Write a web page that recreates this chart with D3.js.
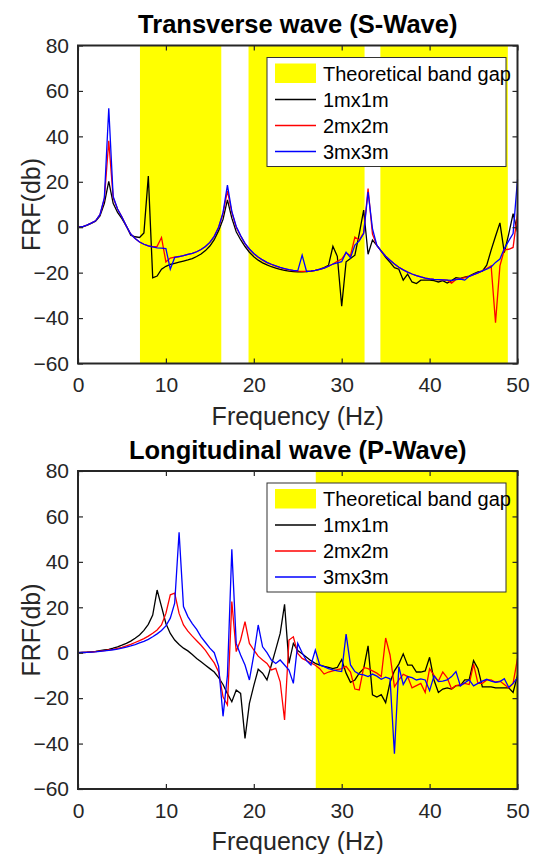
<!DOCTYPE html>
<html><head><meta charset="utf-8">
<script src="https://cdn.jsdelivr.net/npm/d3@7"></script>
<style>
html,body{margin:0;padding:0;background:#fff;}
svg{display:block;font-family:"Liberation Sans",Arial,Helvetica,sans-serif;}
</style></head>
<body>
<svg id="chart" width="537" height="854"></svg>
<script>
const freq = [0,0.5,1,1.5,2,2.5,3,3.5,4,4.5,5,5.5,6,6.5,7,7.5,8,8.5,9,9.5,10,10.5,11,11.5,12,12.5,13,13.5,14,14.5,15,15.5,16,16.5,17,17.5,18,18.5,19,19.5,20,20.5,21,21.5,22,22.5,23,23.5,24,24.5,25,25.5,26,26.5,27,27.5,28,28.5,29,29.5,30,30.5,31,31.5,32,32.5,33,33.5,34,34.5,35,35.5,36,36.5,37,37.5,38,38.5,39,39.5,40,40.5,41,41.5,42,42.5,43,43.5,44,44.5,45,45.5,46,46.5,47,47.5,48,48.5,49,49.5,50];

const seriesNames = ["1mx1m","2mx2m","3mx3m"];
const seriesColors = ["#000000","#ff0000","#0000ff"];
const bandLabel = "Theoretical band gap";

// Transverse wave (S-Wave)
const sBands = [[7.05,16.3],[19.4,32.6],[34.4,48.9]];
const sBlack = [0,0.2,0.8,1.7,2.6,5,10.5,20.2,10.5,6.5,
 3.8,0.5,-3.5,-4.2,-4.5,-2.5,22.5,-22.3,-21.5,-18.5,
 -17.2,-16.4,-15.9,-15.4,-14.9,-14.4,-13.8,-12.9,-11.8,-10.3,
 -8.3,-5.5,-1.5,3.5,12,4,-2,-5.5,-8.5,-11,
 -13,-14.5,-15.7,-16.6,-17.4,-18,-18.6,-19,-19.3,-19.5,
 -19.6,-19.6,-19.5,-19.3,-19,-18.5,-17.8,-16.8,-8.4,-12.8,
 -34.8,-15.2,-13.8,-12.3,-2.8,7.5,-11.9,-5.7,-8,-10.5,
 -13.3,-15.5,-17.8,-18.5,-23.3,-20.7,-24.1,-24.8,-23.3,-23.3,
 -23.3,-23.5,-24.1,-23.5,-24.6,-23.5,-22.2,-22.5,-22,-21.5,
 -20.5,-19.7,-19.3,-16.7,-10.1,-4,1.9,-11.2,-3,6,
 -2];
const sRed = [0,0.2,0.9,1.8,2.8,5.5,12.5,38,13,8,
 4.5,0.5,-3,-5,-6.5,-7.5,-8.2,-8.6,-8.4,-4.5,
 -15.3,-13.6,-13.2,-12.9,-12.5,-12,-11.5,-10.8,-9.8,-8.5,
 -6.7,-4,0,6,16,6.5,0,-3.8,-7.2,-9.7,
 -11.7,-13.2,-14.5,-15.6,-16.4,-17.1,-17.8,-18.3,-18.8,-19.1,
 -19.3,-19.4,-19.4,-19.3,-19,-18.6,-18,-17.2,-16.2,-15,
 -14,-11.3,-12.5,-4.3,-5.7,-2.5,17,-3,-8,-10.5,
 -12.8,-14.5,-16.2,-17.6,-18.8,-19.8,-20.6,-21.3,-21.9,-22.4,
 -22.8,-23,-23.1,-23.2,-23.3,-24.6,-23,-22.6,-22.2,-21.6,
 -20.9,-20.1,-19.2,-18.2,-17,-42,-17,-10,-9.7,-8.9,
 6];
const sBlue = [0,0.2,0.9,1.8,2.8,5.5,13,52.4,13.5,8,
 4.5,0.5,-3,-5,-6.5,-7.5,-8.2,-8.7,-9.1,-9.2,
 -9.4,-18.5,-13.3,-12.9,-12.5,-12,-11.5,-10.8,-9.8,-8.5,
 -6.7,-4,0,6.5,18.5,7,0.3,-3.7,-7.1,-9.6,
 -11.6,-13.1,-14.4,-15.5,-16.3,-17,-17.7,-18.2,-18.7,-19,
 -19.2,-12.3,-19.5,-19.3,-19,-18.6,-18,-17.2,-16.2,-15.7,
 -15.2,-11,-13.4,-7.9,-6,-2.8,15.5,-0.6,-8,-10.5,
 -12.8,-14.5,-16.2,-17.6,-18.8,-19.8,-20.6,-21.3,-21.9,-22.4,
 -22.8,-23,-23.1,-23.2,-23.3,-23.4,-23.1,-22.8,-23.3,-21.6,
 -20.9,-20.1,-19.2,-18.5,-17.5,-15.5,-14,-9.4,-6,-2.8,
 21];

// Longitudinal wave (P-Wave)
const pBands = [[27.05,50]];
const pBlack = [0,0.1,0.2,0.4,0.6,0.9,1.2,1.5,2,2.6,
 3.3,4.1,5.1,6.4,7.8,9.8,12.5,16.6,27.6,20.3,
 12.9,8.5,5.6,3.6,2,0.8,-0.8,-2.5,-4,-5.5,
 -7,-8.5,-11,-14,-18,-21.6,-16.4,-17.9,-37.7,-22.3,
 -14.5,-7.3,-9,-12,-5.4,1.5,8.5,21.3,-4.7,4.1,
 1,-0.5,-2,-3.5,-4.7,-5.5,-6,-6.5,-7,-6.5,
 -3,-9,-13,-12,-9,-7,3,-18.5,-19.5,-18.5,
 -22,-13,-8,-5,-0.5,-5.5,-5.5,-8.5,-8.5,-8,
 -2,-12,-17.5,-16,-15.5,-16,-14.5,-14.5,-12,-12,
 -3.5,-7,-15,-15,-15,-15.5,-15.5,-15.5,-15.5,-17.5,
 -10];
const pRed = [0,0.1,0.2,0.3,0.5,0.7,0.9,1.2,1.5,1.9,
 2.4,3,3.7,4.5,5.3,6.2,7.3,8.6,10,12.2,
 17.3,25.5,26.2,17.3,12.2,9.5,7.3,5.3,3.3,1,
 -1.8,-4.5,-8.5,-19.4,-23,22.5,0.5,5.6,13.7,4.1,
 1.2,-1.5,-3.2,-4.7,-7.6,-6.9,-12.8,-29.6,5.6,7,
 -0.3,-2.5,-3.5,-4.5,-5.5,-7,-9.4,-8.5,-8,-7.5,
 -7,-6,-8.5,-16,-16.4,-6.5,-7,-8,-9,-10.5,
 6.5,-1,-15,-12,-9.5,-10.5,-15.5,-14.5,-13.5,-17.5,
 -7,-10,-12.5,-8.5,-11,-16,-14.5,-14,-13.5,-14,
 -5,-13.5,-13.5,-12,-12,-13,-12.5,-14,-15.5,-13.5,
 -2.5];
const pBlue = [0,0.1,0.15,0.3,0.4,0.6,0.8,1,1.3,1.6,
 2,2.5,3,3.6,4.3,5,5.9,7,8.3,9.8,
 11.8,15.2,21.8,53,20.3,15.9,12.8,10.3,7,4.5,
 2,0,-6,-28,-10,45.5,4.1,-1,-5.4,-12,
 -1,12.2,2.6,0,-3.2,-4.7,-3.2,-5.4,-7.6,-13.5,
 4.1,0,-3.5,-5.4,1.2,-5.4,-6.1,-7,-7.6,-8,
 -8.3,8.2,-5.4,-8.3,-9.4,-9.8,-10.5,-9.4,-10.3,-11.7,
 -10.8,-11.5,-44.5,-6.1,-14,-10.5,-11,-12,-11.5,-12,
 -16.7,-10.2,-12.7,-12.5,-12,-10.5,-8.3,-14.6,-13.2,-12,
 -14.6,-13.5,-12.5,-11.7,-12.5,-13,-12.7,-11.4,-15.2,-13.5,
 -11];

const xTicks = [0,10,20,30,40,50];
const yTicks = [-60,-40,-20,0,20,40,60,80];

const svg = d3.select("#chart");
const AX = "#262626";
const L = 78, R = 517.5, PH = 318;

function panel(top, title, bands, series) {
  const x = d3.scaleLinear().domain([0,50]).range([L,R]);
  const y = d3.scaleLinear().domain([-60,80]).range([top+PH, top]);
  const g = svg.append("g");

  g.selectAll("rect.band").data(bands).join("rect")
    .attr("x", d => x(d[0])).attr("width", d => x(d[1]) - x(d[0]))
    .attr("y", y(80)).attr("height", y(-60) - y(80))
    .attr("fill", "#ffff00");

  const line = d3.line().x((d,i) => x(freq[i])).y(d => y(d));
  series.forEach((s,k) => {
    g.append("path").datum(s).attr("d", line)
      .attr("fill","none").attr("stroke", seriesColors[k])
      .attr("stroke-width", 1.3).attr("stroke-linejoin","miter");
  });

  // axes
  const ax = (gen, tr) => {
    const a = g.append("g").attr("transform", tr).call(gen);
    a.select(".domain").remove();
    a.selectAll(".tick line").attr("stroke", AX).attr("stroke-width", 1.2);
    a.selectAll(".tick text").attr("fill", AX).style("font-size","21px")
      .style("font-family",'"Liberation Sans",Arial,sans-serif');
    return a;
  };
  ax(d3.axisBottom(x).tickValues(xTicks).tickSizeInner(-5).tickSizeOuter(0).tickPadding(14).tickFormat(d3.format("d")),
     `translate(0,${y(-60)})`);
  ax(d3.axisTop(x).tickValues(xTicks).tickSizeInner(-5).tickSizeOuter(0).tickFormat(""),
     `translate(0,${y(80)})`);
  ax(d3.axisLeft(y).tickValues(yTicks).tickSizeInner(-5).tickSizeOuter(0).tickPadding(9).tickFormat(d3.format("d")),
     `translate(${L},0)`);
  ax(d3.axisRight(y).tickValues(yTicks).tickSizeInner(-5).tickSizeOuter(0).tickFormat(""),
     `translate(${R},0)`);

  g.append("rect").attr("x", L).attr("y", top).attr("width", R-L).attr("height", PH)
    .attr("fill","none").attr("stroke", AX).attr("stroke-width", 2);

  // title
  g.append("text").attr("x", (L+R)/2).attr("y", top - 12.5)
    .attr("text-anchor","middle").style("font-weight","bold").style("font-size","25.5px")
    .attr("fill","#000").text(title);
  // axis labels
  g.append("text").attr("x", (L+R)/2).attr("y", top + PH + 61)
    .attr("text-anchor","middle").style("font-size","25px").attr("fill", AX)
    .text("Frequency (Hz)");
  g.append("text").attr("transform", `translate(40,${top+PH/2}) rotate(-90)`)
    .attr("text-anchor","middle").style("font-size","25px").attr("fill", AX)
    .text("FRF(db)");

  // legend
  const lg = g.append("g").attr("transform", `translate(267,${top+12})`);
  lg.append("rect").attr("x",0).attr("y",0).attr("width",239).attr("height",109)
    .attr("fill","#fff").attr("stroke","#333").attr("stroke-width",1);
  lg.append("rect").attr("x",8).attr("y",6).attr("width",41).attr("height",19.5).attr("fill","#ffff00");
  const rows = [bandLabel].concat(seriesNames);
  rows.forEach((t,i) => {
    const cy = 16 + i*26;
    if (i > 0) lg.append("line").attr("x1",8).attr("x2",49).attr("y1",cy).attr("y2",cy)
      .attr("stroke", seriesColors[i-1]).attr("stroke-width",1.5);
    lg.append("text").attr("x",56).attr("y",cy).attr("dy","0.36em")
      .style("font-size","20px").attr("fill","#000").text(t);
  });
}

panel(45.5, "Transverse wave (S-Wave)", sBands, [sBlack, sRed, sBlue]);
panel(471, "Longitudinal wave (P-Wave)", pBands, [pBlack, pRed, pBlue]);
</script>
</body></html>
